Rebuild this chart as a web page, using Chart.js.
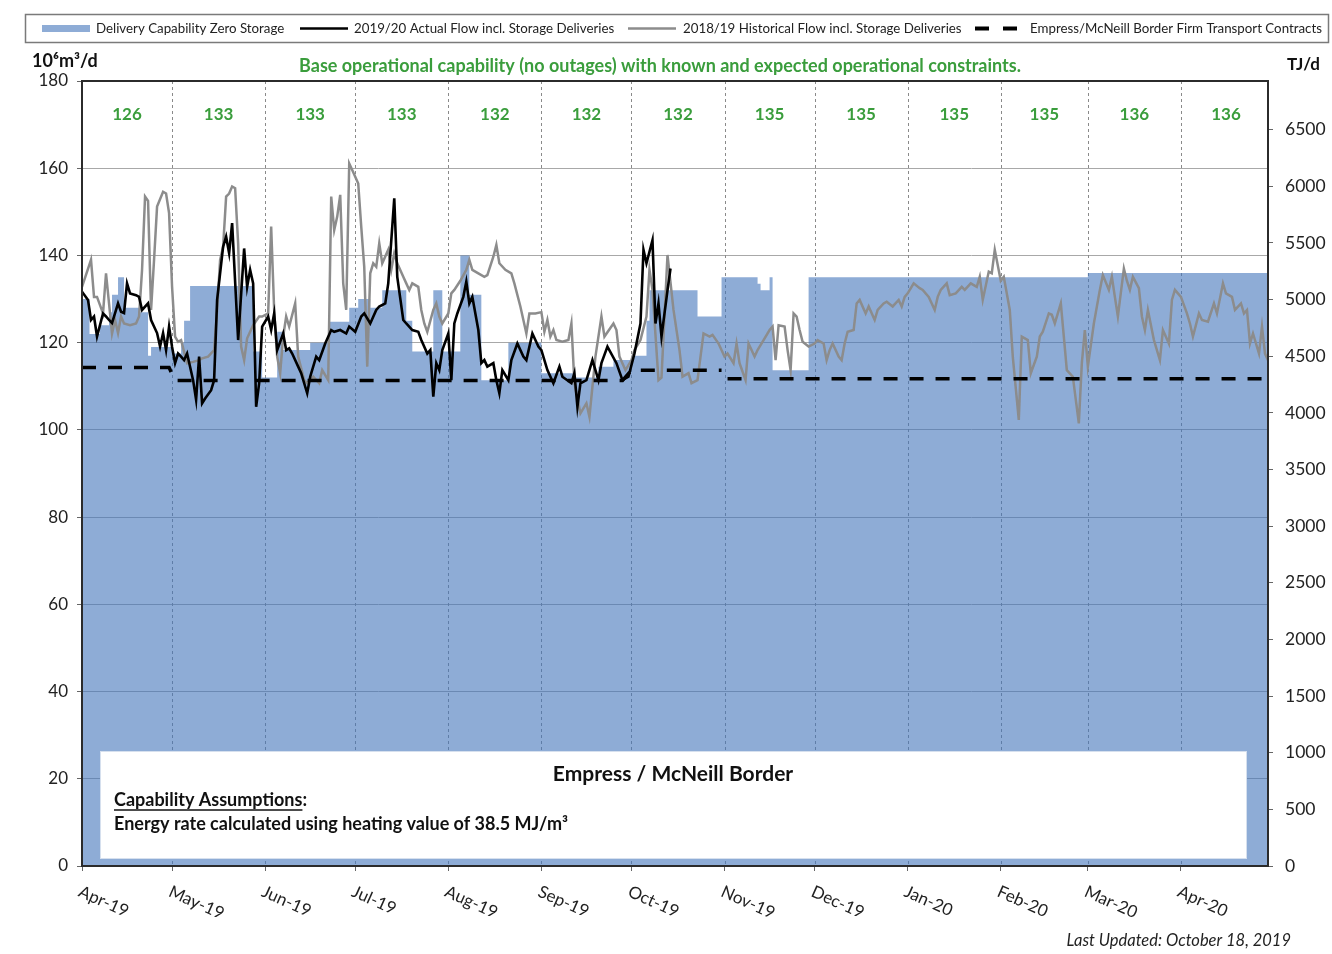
<!DOCTYPE html>
<html>
<head>
<meta charset="utf-8">
<script src="https://cdn.jsdelivr.net/npm/chart.js@4.4.0/dist/chart.umd.min.js"></script>
<style>
  body { margin: 0; background: #fff; }
  #wrap { width: 1332px; height: 954px; }
</style>
</head>
<body>
<div id="wrap"><canvas id="chart"></canvas></div>
<script>
// month axis (day index from Apr 1 2019)
const monthStarts = [0, 30, 61, 91, 122, 153, 183, 214, 244, 275, 306, 335, 366, 396];
const monthLabels = ["Apr-19", "May-19", "Jun-19", "Jul-19", "Aug-19", "Sep-19", "Oct-19",
                     "Nov-19", "Dec-19", "Jan-20", "Feb-20", "Mar-20", "Apr-20"];
const monthCapability = [126, 133, 133, 133, 132, 132, 132, 135, 135, 135, 135, 136, 136];

const leftTicks = [0, 20, 40, 60, 80, 100, 120, 140, 160, 180];
const rightTicks = [0, 500, 1000, 1500, 2000, 2500, 3000, 3500, 4000, 4500, 5000, 5500, 6000, 6500];

// delivery capability zero storage (stepped, value holds until next day listed)
const capDays = [0, 2.5, 6, 9, 10, 12, 14, 19, 22, 23, 30, 33, 34, 36, 57, 60, 65, 67, 76, 82, 89, 92, 96,
                 100, 108, 110, 117, 120, 126, 129, 133, 142, 153, 164, 172, 177, 183, 188, 189, 205, 213,
                 225, 226, 229, 230, 242, 335, 395];
const capValues = [130, 122, 124, 127, 131, 135, 128, 127, 117, 119, 117.5, 120, 125, 133, 118, 112, 122.5,
                   118.3, 120, 124.8, 128, 130, 128, 132, 125, 118, 132, 118, 140, 131, 111.4, 120, 113, 112,
                   114.5, 116, 117, 125, 132, 126, 135, 133.5, 132, 135, 113.7, 135, 136, 136];

// 2019/20 actual flow incl. storage deliveries
const actualDays = [0, 2, 3, 4, 5, 7, 8, 9, 10, 12, 13, 14, 15, 16, 18, 19, 20, 22, 23, 25, 26, 27, 28, 29,
  30, 31, 32, 33, 34, 35, 37, 38, 39, 40, 41, 43, 44, 45, 47, 48, 49, 50, 52, 54, 55, 56, 57, 58, 59, 60,
  62, 63, 64, 65, 67, 68, 69, 70, 72, 73, 75, 76, 77, 78, 79, 81, 83, 84, 86, 88, 89, 91, 93, 94, 96, 98,
  99, 101, 102, 104, 105, 107, 108, 110, 112, 113, 115, 116, 117, 118, 119, 120, 122, 123, 124, 125, 127,
  128, 129, 130, 132, 133, 134, 135, 137, 138, 139, 140, 142, 143, 145, 147, 148, 150, 152, 153, 155, 157,
  159, 160, 163, 164, 165, 166, 168, 170, 172, 173, 175, 178, 180, 182, 184, 186, 187, 188, 190, 191, 192,
  193, 195, 196];
const actualValues = [131.7, 129.8, 125.2, 126, 121.4, 126.7, 126, 125.2, 124.5, 129, 127.1, 126.8, 133.6,
  131.3, 130.9, 130.5, 127.5, 129, 125.2, 122.2, 119.1, 122.2, 118.3, 123.7, 119, 115.3, 117.5, 116.8, 116,
  117.5, 111.4, 106.9, 116.8, 106.1, 107.2, 109.1, 111.4, 129.8, 142, 144.3, 140.5, 147.4, 120.6, 141.6,
  132.8, 136.7, 133.6, 105.3, 110.7, 123.7, 126, 122.9, 126.7, 118.3, 122.1, 118.3, 118.7, 117.5, 114.5,
  113, 108.4, 112.2, 114.5, 116.8, 116, 119.8, 122.9, 122.5, 122.9, 122.1, 123.7, 122.5, 126, 126.7, 124.4,
  127.5, 128.3, 129, 133.6, 153.1, 135.1, 125.2, 124.4, 122.9, 122.5, 120.6, 117.5, 118.3, 107.6, 115.3,
  113.7, 118.3, 122.1, 111.4, 124.4, 126.7, 130.5, 134, 129, 130.5, 122.9, 115.3, 116, 114.5, 115.3, 111.4,
  108.4, 113.7, 111.4, 116, 119.8, 116.8, 116, 122.1, 119.1, 118.3, 113.7, 110.7, 114.5, 112.2, 110.7, 113,
  105.3, 110.7, 111.4, 116, 111.4, 115.3, 119.1, 115.3, 111.4, 112.2, 117.5, 124.4, 141.3, 138.2, 143.5,
  124.4, 129, 121.4, 132, 137];

// 2018/19 historical flow incl. storage deliveries
const histDays = [0, 3, 4, 5, 7, 8, 9, 10, 11, 12, 13, 14, 16, 18, 19, 20, 21, 22, 23, 24, 25, 27, 28, 29, 30,
  31, 32, 33, 34, 35, 37, 39, 40, 42, 44, 45, 46, 47, 48, 49, 50, 51, 52, 53, 54, 55, 57, 59, 60, 62, 63, 64,
  65, 66, 67, 68, 69, 71, 72, 74, 75, 77, 79, 80, 82, 83, 84, 85, 86, 87, 88, 89, 90, 92, 93, 94, 95, 96, 97,
  98, 99, 100, 102, 103, 104, 105, 107, 108, 109, 110, 112, 113, 114, 115, 117, 118, 119, 120, 122, 123, 124,
  126, 128, 129, 130, 132, 134, 135, 137, 138, 139, 141, 143, 144, 146, 148, 149, 151, 153, 154, 155, 156,
  157, 158, 160, 162, 163, 164, 166, 168, 169, 171, 173, 174, 177, 178, 179, 181, 183, 184, 186, 188, 189,
  190, 192, 193, 195, 197, 199, 200, 202, 203, 205, 206, 207, 209, 210, 212, 214, 215, 217, 218, 219, 221,
  222, 224, 225, 227, 229, 230, 231, 232, 234, 235, 236, 237, 238, 239, 240, 242, 244, 245, 247, 248, 249,
  250, 252, 253, 254, 255, 257, 258, 259, 261, 262, 264, 265, 267, 268, 270, 272, 273, 274, 275, 277, 279,
  280, 282, 284, 285, 286, 288, 289, 291, 293, 294, 296, 298, 299, 300, 302, 303, 304, 306, 307, 309, 310,
  312, 313, 315, 316, 318, 319, 320, 322, 323, 324, 326, 327, 328, 330, 332, 333, 334, 335, 337, 339, 340,
  342, 343, 344, 345, 347, 348, 349, 350, 352, 353, 354, 355, 357, 358, 359, 360, 362, 363, 364, 366, 368,
  369, 370, 372, 373, 375, 377, 378, 380, 381, 383, 384, 386, 387, 388, 389, 390, 392, 393, 394, 395];
const histValues = [132.8, 139, 130.5, 130.5, 126.7, 135.9, 129, 122.1, 125.2, 122.2, 126, 124.4, 124, 124.4,
  126, 136.7, 153.5, 152.5, 127.5, 139, 151.2, 154.6, 154.2, 149.7, 132.8, 121.4, 120.2, 120.6, 117.9, 115.3,
  115.6, 116, 116.4, 116.8, 118.3, 127.5, 139, 142, 153.5, 154.2, 155.8, 155.4, 142.8, 119.1, 116, 121, 124,
  126, 126, 126.7, 146.6, 127.5, 116.8, 113, 121.4, 126, 123.7, 129, 116.8, 111.4, 110.7, 112.2, 110.7,
  113.7, 111.4, 153.5, 145.8, 148.9, 153.9, 133.6, 127.5, 161.1, 159.6, 156.5, 146.6, 137.4, 114.5, 135.9,
  138.2, 137.4, 142.8, 138.2, 141.3, 136.7, 140.5, 138.2, 135.1, 133.6, 132.1, 133.6, 132.8, 127.5, 124.4,
  122.5, 127.5, 129, 126, 124.4, 126.7, 131.3, 132.1, 134.2, 136.7, 139, 136.7, 135.9, 135.1, 135.5, 139.7,
  142.4, 138.2, 136.7, 135.9, 133.6, 128.3, 122.1, 126.7, 126.7, 127, 122.5, 125.2, 121.4, 122.9, 120.6,
  120.2, 120.6, 124.4, 110.7, 103.8, 106.1, 103, 116.8, 126, 121.4, 124.4, 122.9, 116.8, 113.7, 116, 118.3,
  120.6, 126, 136.7, 132.1, 111.4, 112, 140.1, 127.5, 118.3, 112.2, 113, 110.7, 111.4, 116.8, 122.1, 121.4,
  121.8, 119.8, 116.8, 117.5, 115.3, 119.8, 115.3, 111.4, 119.8, 116.8, 118.3, 120.6, 122.9, 123.7, 116, 124,
  123.7, 118.3, 113.7, 126.7, 126, 122.9, 120.2, 119.1, 119.8, 120.6, 119.8, 116, 118.3, 119.8, 116.8, 116,
  119.8, 122.5, 122.9, 129, 129.8, 126.7, 128.3, 125.2, 127.5, 129, 129.4, 128.3, 129.8, 128.3, 130.5, 131.3,
  133.6, 132.5, 132.1, 130.5, 127.5, 130.5, 132.1, 133.6, 130.9, 131.3, 132.8, 132.1, 133.6, 132.8, 135.1,
  129.8, 136.3, 135.9, 141.3, 134.2, 135.1, 127.5, 116.8, 102.3, 121.4, 120.6, 113, 116.8, 121.4, 122.5,
  126.7, 126.4, 124.4, 129, 121.4, 113.7, 112.2, 101.5, 115.3, 122.9, 114.5, 124.4, 132.1, 135.5, 132.1,
  135.1, 130.5, 126, 137, 134.2, 132.1, 135.1, 132.5, 126, 122.9, 127.5, 120.6, 118.3, 116, 122.9, 119.8,
  129.8, 132.1, 130.5, 126.7, 124.4, 121.4, 126.7, 125.2, 124.8, 129, 126.7, 133.6, 131.3, 130.5, 127.5, 129,
  126.7, 127.5, 119.8, 122.1, 117.5, 123.7, 117.5, 116];

// Empress/McNeill border firm transport contracts
const contractDays = [0, 29, 31, 180, 183, 213, 214, 215, 395];
const contractValues = [114.3, 114.3, 111.3, 111.3, 113.7, 113.7, null, 111.7, 111.7];

const GREEN = "#3a9d3c";
const BLUE = "#8eacd6";

function pairs(xs, ys) {
    return xs.map((x, i) => ({ x: x, y: ys[i] }));
}

const decor = {
    id: "decor",
    beforeDatasetsDraw(chart) {
        const ctx = chart.ctx;
        const a = chart.chartArea;
        const xs = chart.scales.x;
        ctx.save();
        ctx.strokeStyle = "#8a8a8a";
        ctx.lineWidth = 1;
        ctx.setLineDash([3, 3]);
        monthStarts.slice(1, 13).forEach(d => {
            const px = Math.round(xs.getPixelForValue(d)) + 0.5;
            ctx.beginPath();
            ctx.moveTo(px, a.top);
            ctx.lineTo(px, a.bottom);
            ctx.stroke();
        });
        ctx.restore();
    },
    afterDraw(chart) {
        const ctx = chart.ctx;
        const a = chart.chartArea;
        const xs = chart.scales.x;
        ctx.save();

        // plot frame
        ctx.strokeStyle = "#2b2b2b";
        ctx.lineWidth = 2;
        ctx.strokeRect(a.left, a.top, a.right - a.left, a.bottom - a.top);

        // legend
        ctx.strokeStyle = "#7a7a7a";
        ctx.lineWidth = 1.5;
        ctx.strokeRect(25.5, 14.5, 1303, 28);
        ctx.fillStyle = BLUE;
        ctx.fillRect(42, 25, 48, 7);
        ctx.strokeStyle = "#000";
        ctx.lineWidth = 2.5;
        ctx.beginPath(); ctx.moveTo(300, 28.5); ctx.lineTo(348, 28.5); ctx.stroke();
        ctx.strokeStyle = "#8c8c8c";
        ctx.beginPath(); ctx.moveTo(628, 28.5); ctx.lineTo(676, 28.5); ctx.stroke();
        ctx.strokeStyle = "#000";
        ctx.lineWidth = 4;
        ctx.beginPath(); ctx.moveTo(975, 28.5); ctx.lineTo(989, 28.5); ctx.moveTo(1003, 28.5); ctx.lineTo(1017, 28.5); ctx.stroke();
        ctx.fillStyle = "#222";
        ctx.font = "13.3px Lato";
        ctx.textBaseline = "middle";
        ctx.textAlign = "left";
        ctx.fillText("Delivery Capability Zero Storage", 96, 29);
        ctx.fillText("2019/20 Actual Flow incl. Storage Deliveries", 354, 29);
        ctx.fillText("2018/19 Historical Flow incl. Storage Deliveries", 683, 29);
        ctx.fillText("Empress/McNeill Border Firm Transport Contracts", 1030, 29);

        // axis titles
        ctx.font = "bold 18px Lato";
        ctx.fillStyle = "#111";
        ctx.fillText("10\u2076m\u00b3/d", 32, 61);
        ctx.font = "bold 17px Lato";
        ctx.fillText("TJ/d", 1287, 65);

        // subtitle
        ctx.fillStyle = GREEN;
        ctx.font = "bold 18px Lato";
        ctx.textAlign = "center";
        ctx.fillText("Base operational capability (no outages) with known and expected operational constraints.", 660, 66);

        // monthly capability numbers
        ctx.font = "bold 17px Lato";
        monthCapability.forEach((v, i) => {
            const mid = (monthStarts[i] + monthStarts[i + 1]) / 2;
            ctx.fillText(String(v), xs.getPixelForValue(mid), 115);
        });

        // month labels, tilted downwards
        ctx.fillStyle = "#222";
        ctx.font = "17px Lato";
        ctx.textAlign = "left";
        ctx.textBaseline = "top";
        monthLabels.forEach((lab, i) => {
            const px = xs.getPixelForValue(monthStarts[i]);
            ctx.save();
            ctx.translate(px + 1, 883);
            ctx.rotate(24 * Math.PI / 180);
            ctx.fillText(lab, 0, 0);
            ctx.restore();
        });

        // assumptions box
        ctx.fillStyle = "#fff";
        ctx.fillRect(100, 751, 1146, 107);
        ctx.strokeStyle = "#d6e0ee";
        ctx.lineWidth = 1;
        ctx.strokeRect(100.5, 751.5, 1146, 107);
        ctx.fillStyle = "#111";
        ctx.textBaseline = "middle";
        ctx.textAlign = "center";
        ctx.font = "bold 21px Lato";
        ctx.fillText("Empress / McNeill Border", 673, 774);
        ctx.textAlign = "left";
        ctx.font = "bold 18px Lato";
        const head = "Capability Assumptions";
        ctx.fillText(head + ":", 114, 800);
        const w = ctx.measureText(head).width;
        ctx.strokeStyle = "#111";
        ctx.lineWidth = 1.3;
        ctx.beginPath(); ctx.moveTo(114, 810); ctx.lineTo(114 + w, 810); ctx.stroke();
        ctx.fillText("Energy rate calculated using heating value of 38.5 MJ/m\u00b3", 114, 824);

        // footer
        ctx.font = "italic 16.5px Lato";
        ctx.textAlign = "right";
        ctx.fillStyle = "#222";
        ctx.fillText("Last Updated: October 18, 2019", 1291, 941);
        ctx.restore();
    }
};

new Chart(document.getElementById("chart"), {
    type: "line",
    data: {
        datasets: [
            {
                label: "2019/20 Actual Flow incl. Storage Deliveries",
                data: pairs(actualDays, actualValues),
                borderColor: "#000",
                borderWidth: 2.6,
                pointRadius: 0,
                fill: false,
                order: 1
            },
            {
                label: "Empress/McNeill Border Firm Transport Contracts",
                data: pairs(contractDays, contractValues),
                borderColor: "#000",
                borderWidth: 3.5,
                borderDash: [14, 12],
                pointRadius: 0,
                fill: false,
                spanGaps: false,
                order: 2
            },
            {
                label: "2018/19 Historical Flow incl. Storage Deliveries",
                data: pairs(histDays, histValues),
                borderColor: "#8c8c8c",
                borderWidth: 2.5,
                pointRadius: 0,
                fill: false,
                order: 3
            },
            {
                label: "Delivery Capability Zero Storage",
                data: pairs(capDays, capValues),
                stepped: true,
                borderWidth: 0,
                borderColor: "rgba(0,0,0,0)",
                backgroundColor: "rgba(67,117,187,0.6)",
                pointRadius: 0,
                fill: "origin",
                order: 4
            }
        ]
    },
    options: {
        responsive: true,
        maintainAspectRatio: false,
        animation: false,
        layout: { padding: { top: 81, bottom: 80, left: 0, right: 0 } },
        plugins: {
            legend: { display: false },
            tooltip: { enabled: false }
        },
        scales: {
            x: {
                type: "linear",
                min: 0,
                max: 395,
                afterBuildTicks: s => { s.ticks = monthStarts.slice(0, 13).map(v => ({ value: v })); },
                afterFit: s => { s.height = 8; },
                ticks: { display: false },
                grid: { drawOnChartArea: false, tickLength: 5, color: "#666" },
                border: { display: false }
            },
            y: {
                position: "left",
                min: 0,
                max: 180,
                afterBuildTicks: s => { s.ticks = leftTicks.map(v => ({ value: v })); },
                afterFit: s => { s.width = 82; },
                ticks: { color: "#222", font: { family: "Lato", size: 17 }, padding: 9, callback: v => String(v) },
                grid: { color: "#a8a8a8", lineWidth: 1, tickLength: 5, tickColor: "#666" },
                border: { display: false }
            },
            y2: {
                position: "right",
                min: 0,
                max: 180 * 38.5,
                afterBuildTicks: s => { s.ticks = rightTicks.map(v => ({ value: v })); },
                afterFit: s => { s.width = 64; },
                ticks: { color: "#222", font: { family: "Lato", size: 17.5 }, padding: 12, callback: v => String(v) },
                grid: { drawOnChartArea: false, tickLength: 5, color: "#666" },
                border: { display: false }
            }
        }
    },
    plugins: [decor]
});
</script>
</body>
</html>
